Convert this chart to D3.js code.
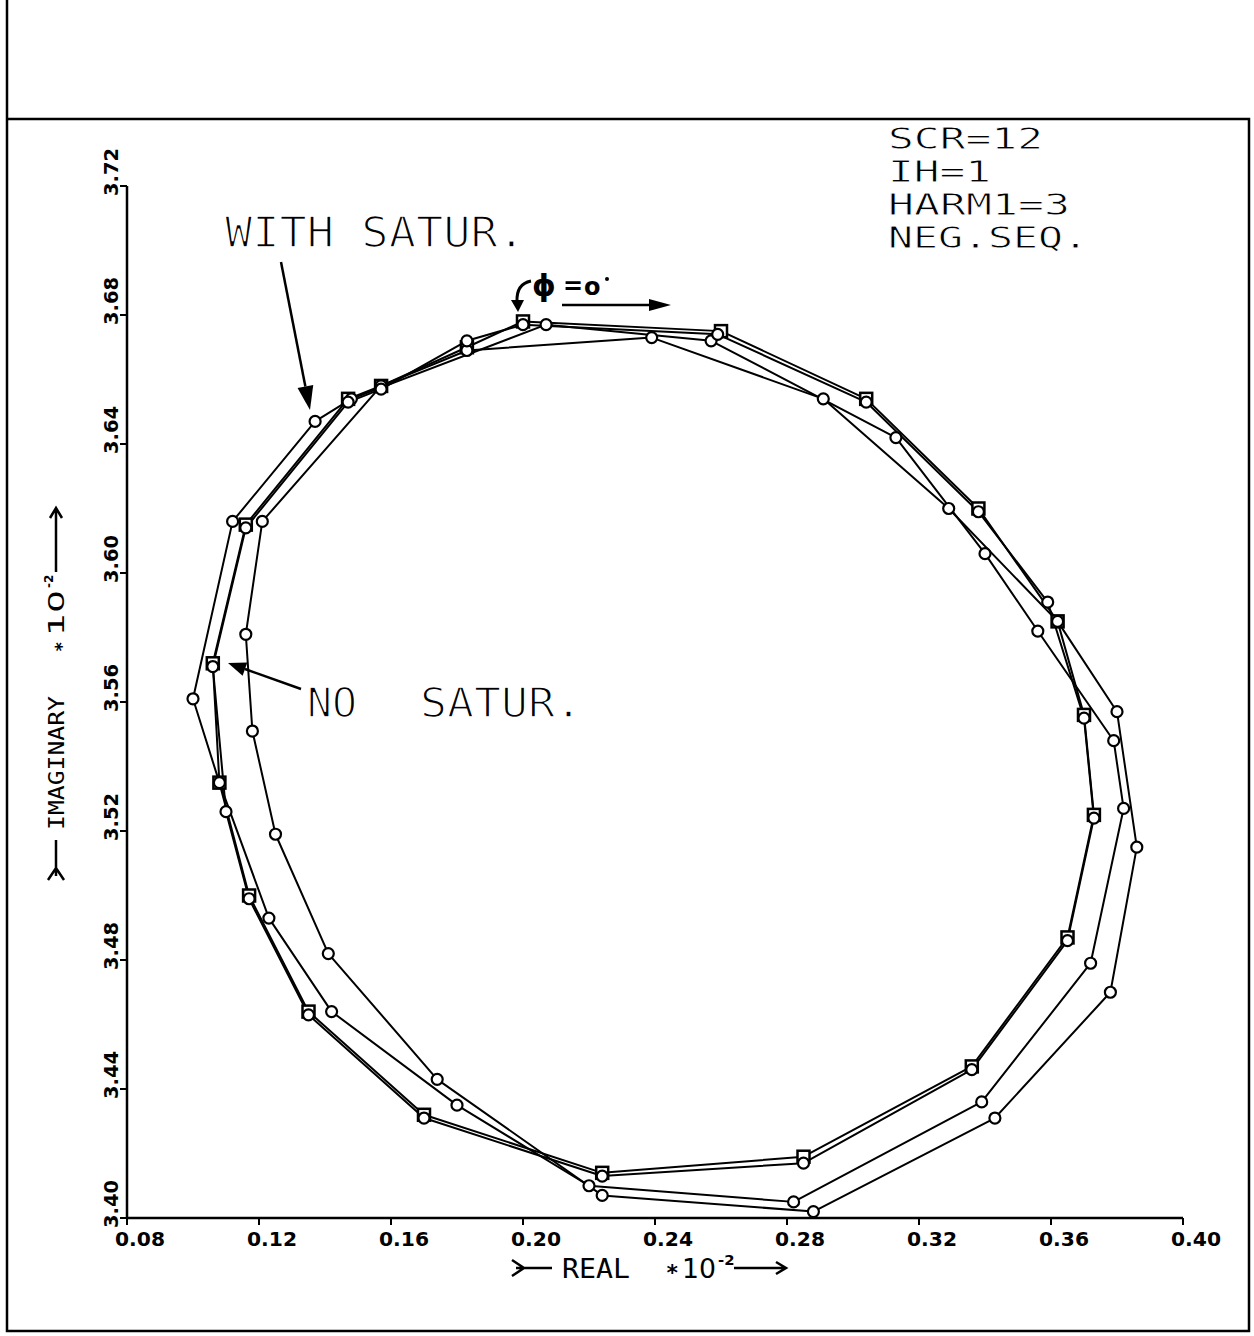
<!DOCTYPE html>
<html>
<head>
<meta charset="utf-8">
<script src="https://cdn.jsdelivr.net/npm/d3@7"></script>
<style>
  body { margin: 0; background: #fff; }
  text { font-family: "DejaVu Sans Mono", monospace; fill: #000; }
</style>
</head>
<body>
<svg id="svg" width="1254" height="1336"></svg>
<script>
// tick labels
const xTickLabels = ["0.08", "0.12", "0.16", "0.20", "0.24", "0.28", "0.32", "0.36", "0.40"];
const yTickLabels = ["3.40", "3.44", "3.48", "3.52", "3.56", "3.60", "3.64", "3.68", "3.72"];

// NO SATUR. (squares)
const noSatReal = [0.183, 0.200, 0.260, 0.304, 0.338, 0.362, 0.370, 0.373, 0.365, 0.336, 0.285, 0.224, 0.170, 0.135, 0.117, 0.108, 0.106, 0.116, 0.147, 0.157];
const noSatImag = [3.670, 3.678, 3.675, 3.654, 3.620, 3.585, 3.556, 3.525, 3.487, 3.447, 3.419, 3.414, 3.432, 3.464, 3.500, 3.535, 3.572, 3.615, 3.654, 3.658];

// NO SATUR. (circles, almost on top of the squares)
const noSat2Real = [0.183, 0.200, 0.259, 0.304, 0.338, 0.359, 0.370, 0.373, 0.365, 0.336, 0.285, 0.224, 0.170, 0.135, 0.117, 0.110, 0.106, 0.116, 0.147, 0.157];
const noSat2Imag = [3.672, 3.677, 3.674, 3.653, 3.619, 3.591, 3.555, 3.524, 3.486, 3.446, 3.417, 3.413, 3.431, 3.463, 3.499, 3.526, 3.571, 3.614, 3.653, 3.657];

// WITH SATUR. (outer on the left)
const satAReal = [0.207, 0.257, 0.313, 0.340, 0.356, 0.379, 0.382, 0.372, 0.339, 0.282, 0.220, 0.180, 0.142, 0.123, 0.108, 0.100, 0.112, 0.137, 0.148];
const satAImag = [3.677, 3.672, 3.642, 3.606, 3.582, 3.548, 3.527, 3.479, 3.436, 3.405, 3.410, 3.435, 3.464, 3.493, 3.535, 3.561, 3.616, 3.647, 3.654];

// WITH SATUR. (outer on the right)
const satBReal = [0.183, 0.239, 0.291, 0.329, 0.362, 0.380, 0.386, 0.378, 0.343, 0.288, 0.224, 0.174, 0.141, 0.125, 0.118, 0.116, 0.121, 0.157];
const satBImag = [3.669, 3.673, 3.654, 3.620, 3.585, 3.557, 3.515, 3.470, 3.431, 3.402, 3.407, 3.443, 3.482, 3.519, 3.551, 3.581, 3.616, 3.658];

const series = [
  { re: noSatReal, im: noSatImag, mark: "square" },
  { re: satAReal, im: satAImag, mark: "circle" },
  { re: satBReal, im: satBImag, mark: "circle" },
  { re: noSat2Real, im: noSat2Imag, mark: "circle" }
];

const NUM_FONT = "'DejaVu Sans', sans-serif";

const svg = d3.select("#svg");
const g = svg.append("g");

const x = d3.scaleLinear().domain([0.08, 0.40]).range([127, 1183]);
const y = d3.scaleLinear().domain([3.40, 3.72]).range([1218, 186]);

// 外框
g.append("path")
  .attr("d", "M7,0 V1331 H1249 V119 H7")
  .attr("fill", "none").attr("stroke", "#000").attr("stroke-width", 2.5);

// 坐标轴
g.append("line")
  .attr("x1", x(0.08)).attr("y1", y(3.72)).attr("x2", x(0.08)).attr("y2", y(3.40))
  .attr("stroke", "#000").attr("stroke-width", 2.5);
g.append("line")
  .attr("x1", x(0.08)).attr("y1", y(3.40)).attr("x2", x(0.40)).attr("y2", y(3.40))
  .attr("stroke", "#000").attr("stroke-width", 2.5);

xTickLabels.forEach(t => {
  const px = x(+t);
  g.append("line")
    .attr("x1", px).attr("y1", y(3.40)).attr("x2", px).attr("y2", y(3.40) + 7)
    .attr("stroke", "#000").attr("stroke-width", 2);
  g.append("text")
    .attr("x", px - 12).attr("y", 1246)
    .style("font-family", NUM_FONT).attr("font-size", 20).attr("font-weight", "bold")
    .attr("textLength", 50).attr("lengthAdjust", "spacingAndGlyphs")
    .text(t);
});

yTickLabels.forEach(t => {
  const py = y(+t);
  g.append("line")
    .attr("x1", x(0.08) - 7).attr("y1", py).attr("x2", x(0.08)).attr("y2", py)
    .attr("stroke", "#000").attr("stroke-width", 2);
  g.append("text")
    .attr("transform", `translate(118,${py + 10}) rotate(-90)`)
    .style("font-family", NUM_FONT).attr("font-size", 20).attr("font-weight", "bold")
    .attr("textLength", 48).attr("lengthAdjust", "spacingAndGlyphs")
    .text(t);
});

// 轴标题
function arrowTitle(parent, label, len, size, gap, numLen, arrowLen) {
  // 尾巴 >—  文字  *10^-2 —>
  const t = parent.append("g");
  t.append("path").attr("d", "M0,-8 L12,0 L0,8 M4,0 H40")
    .attr("fill", "none").attr("stroke", "#000").attr("stroke-width", 2.5);
  t.append("text").attr("x", 50).attr("y", size * 0.36).attr("font-size", size)
    .attr("textLength", len).attr("lengthAdjust", "spacingAndGlyphs").text(label);
  const x0 = 50 + len + gap;
  t.append("text").attr("x", x0).attr("y", 8).attr("font-size", size * 0.8)
    .attr("font-weight", "bold").text("∗");
  t.append("text").attr("x", x0 + 16).attr("y", size * 0.36).attr("font-size", size)
    .style("font-family", NUM_FONT)
    .attr("textLength", numLen).attr("lengthAdjust", "spacingAndGlyphs").text("10");
  const x1 = x0 + 18 + numLen;
  t.append("text").attr("x", x1).attr("y", -3).attr("font-size", size * 0.55)
    .style("font-family", NUM_FONT).attr("font-weight", "bold").text("-2");
  const x2 = x1 + 16;
  t.append("path").attr("d", `M${x2},0 H${x2 + arrowLen} M${x2 + arrowLen - 10},-6 L${x2 + arrowLen},0 L${x2 + arrowLen - 10},6`)
    .attr("fill", "none").attr("stroke", "#000").attr("stroke-width", 2.5);
  return t;
}
arrowTitle(g, "REAL", 68, 27, 36, 34, 52).attr("transform", "translate(512,1268)");
arrowTitle(g, "IMAGINARY", 134, 22, 44, 46, 64).attr("transform", "translate(56,880) rotate(-90)");

// 曲线
const line = d3.line().x(d => x(d[0])).y(d => y(d[1])).curve(d3.curveLinearClosed);
series.forEach(s => {
  const pts = s.re.map((r, i) => [r, s.im[i]]);
  g.append("path").attr("d", line(pts))
    .attr("fill", "none").attr("stroke", "#000").attr("stroke-width", 2)
    .attr("stroke-linejoin", "round");
});
series.forEach(s => {
  const pts = s.re.map((r, i) => [r, s.im[i]]);
  if (s.mark === "square") {
    g.selectAll(null).data(pts).enter().append("rect")
      .attr("x", d => x(d[0]) - 6).attr("y", d => y(d[1]) - 6)
      .attr("width", 12).attr("height", 12)
      .attr("fill", "#fff").attr("stroke", "#000").attr("stroke-width", 2.5);
  } else {
    g.selectAll(null).data(pts).enter().append("circle")
      .attr("cx", d => x(d[0])).attr("cy", d => y(d[1])).attr("r", 5.5)
      .attr("fill", "#fff").attr("stroke", "#000").attr("stroke-width", 2.2);
  }
});

// 注释 (白色描边把字形削细，像绘图仪的细线字)
function plotText(txt, px, py, size, len, thin) {
  g.append("text").attr("x", px).attr("y", py).attr("font-size", size)
    .attr("textLength", len).attr("lengthAdjust", "spacingAndGlyphs")
    .attr("stroke", "#fff").attr("stroke-width", thin)
    .text(txt);
}
plotText("WITH SATUR.", 225, 247, 43, 300, 1.6);
plotText("NO", 307, 717, 41, 50, 1.5);
plotText("SATUR.", 420, 717, 41, 162, 1.5);
plotText("SCR=12", 888, 149, 31, 155, 0.8);
plotText("IH=1", 888, 182, 31, 103, 0.8);
plotText("HARM1=3", 888, 215, 31, 182, 0.8);
plotText("NEG.SEQ.", 888, 248, 31, 200, 0.8);

// 箭头
function arrow(x1, y1, x2, y2, hl, hw) {
  const a = Math.atan2(y2 - y1, x2 - x1);
  const bx = x2 - hl * Math.cos(a), by = y2 - hl * Math.sin(a);
  const nx = -Math.sin(a) * hw / 2, ny = Math.cos(a) * hw / 2;
  g.append("line").attr("x1", x1).attr("y1", y1).attr("x2", bx).attr("y2", by)
    .attr("stroke", "#000").attr("stroke-width", 2.5);
  g.append("path").attr("d", `M${x2},${y2} L${bx + nx},${by + ny} L${bx - nx},${by - ny} Z`)
    .attr("fill", "#000");
}
arrow(281, 262, 310, 410, 24, 16);
arrow(301, 689, 228, 663, 18, 14);
arrow(562, 305, 671, 305, 22, 12);

// φ=0°
g.append("path").attr("d", "M531,281 Q516,284 517,302")
  .attr("fill", "none").attr("stroke", "#000").attr("stroke-width", 3);
g.append("path").attr("d", "M511,300 L524,300 L518,312 Z").attr("fill", "#000");
g.append("text").attr("x", 532).attr("y", 296).attr("font-size", 30)
  .style("font-family", NUM_FONT).attr("font-weight", "bold").text("ϕ");
g.append("text").attr("x", 563).attr("y", 294).attr("font-size", 24)
  .style("font-family", NUM_FONT).attr("font-weight", "bold").text("=");
g.append("text").attr("x", 584).attr("y", 295).attr("font-size", 24)
  .style("font-family", NUM_FONT).attr("font-weight", "bold").text("o");
g.append("circle").attr("cx", 607).attr("cy", 279).attr("r", 2).attr("fill", "#000");
</script>
</body>
</html>
